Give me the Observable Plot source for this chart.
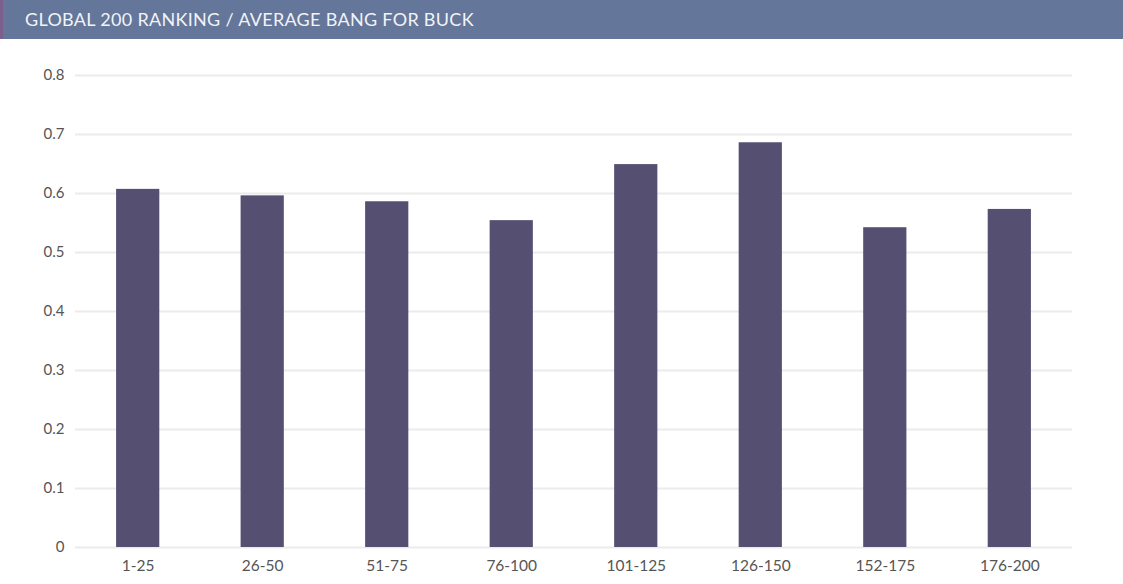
<!DOCTYPE html>
<html>
<head>
<meta charset="utf-8">
<script src="https://cdn.jsdelivr.net/npm/d3@7"></script>
<script src="https://cdn.jsdelivr.net/npm/@observablehq/plot@0.6"></script>
<style>
  html, body { margin: 0; padding: 0; background: #fff; }
  #header {
    width: 1123px; height: 39px; box-sizing: border-box;
    background: #64769a; border-left: 3px solid #7c5f8c;
    color: #f2f3f7; font-family: Lato, "Open Sans", sans-serif;
    font-size: 18px; line-height: 39px; padding-left: 22px;
    letter-spacing: 0.3px;
  }
  #chart svg { display: block; }
</style>
</head>
<body>
<div id="header">GLOBAL 200 RANKING / AVERAGE BANG FOR BUCK</div>
<div id="chart"></div>
<script>
const categories = ["1-25", "26-50", "51-75", "76-100", "101-125", "126-150", "152-175", "176-200"];
const values = [0.607, 0.596, 0.586, 0.554, 0.649, 0.686, 0.542, 0.573];
const yTicks = [0, 0.1, 0.2, 0.3, 0.4, 0.5, 0.6, 0.7, 0.8];

const data = categories.map((c, i) => ({category: c, value: values[i]}));

const chart = Plot.plot({
  width: 1123,
  height: 545,
  marginTop: 36,
  marginBottom: 37,
  marginLeft: 75,
  marginRight: 51,
  style: {fontFamily: "Lato, 'Open Sans', sans-serif", fontSize: "15px", color: "#555"},
  x: {domain: categories, paddingInner: 0.653, paddingOuter: 0.33, round: false, label: null},
  y: {domain: [0, 0.8], label: null},
  marks: [
    Plot.gridY(yTicks, {stroke: "#ebebeb", strokeOpacity: 1, strokeWidth: 2}),
    Plot.barY(data, {x: "category", y: "value", fill: "#554f72"}),
    Plot.axisY(yTicks, {tickSize: 0, tickPadding: 11, fontSize: 15, fill: "#555", tickFormat: d3.format("")}),
    Plot.axisX({tickSize: 0, tickPadding: 12, fontSize: 15.5, fill: "#555"})
  ]
});
document.getElementById("chart").appendChild(chart);
</script>
</body>
</html>
